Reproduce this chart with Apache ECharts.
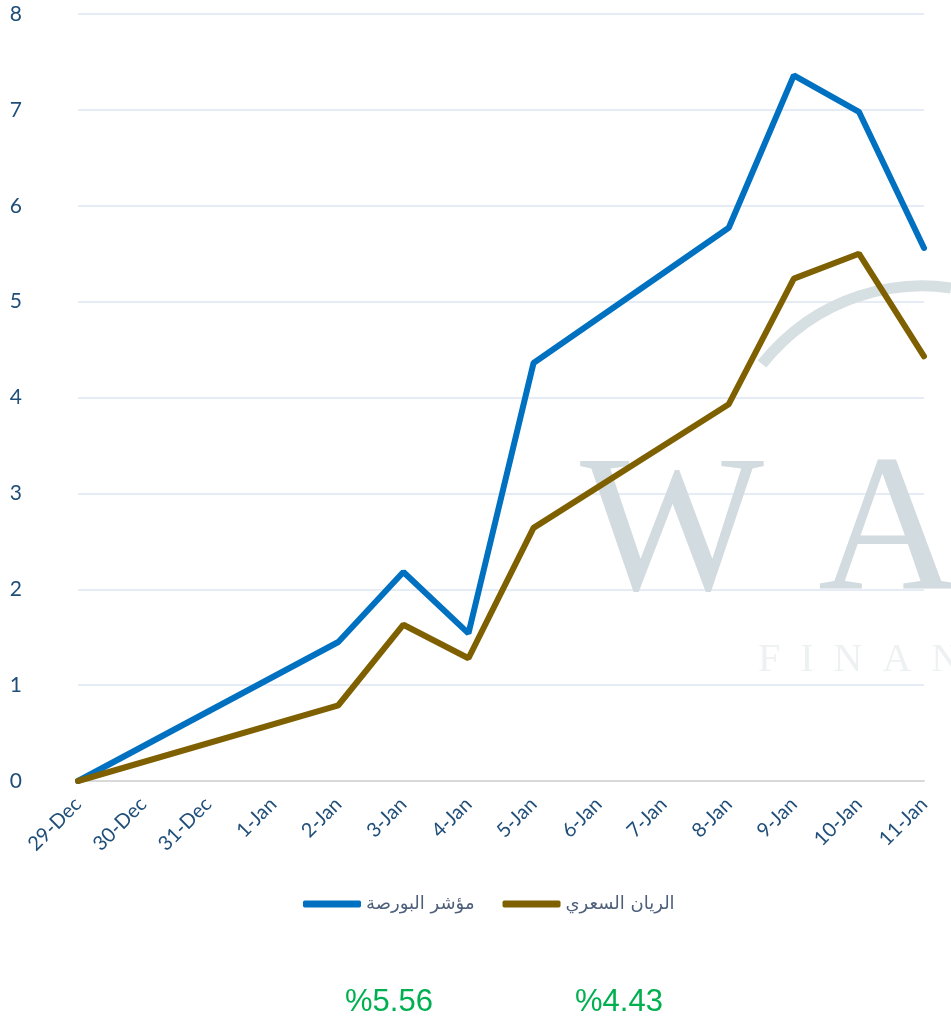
<!DOCTYPE html>
<html>
<head>
<meta charset="utf-8">
<script src="https://cdn.jsdelivr.net/npm/echarts@6/dist/echarts.min.js"></script>
<style>
  html, body { margin: 0; padding: 0; background: #fff; }
  #chart { width: 951px; height: 1024px; }
</style>
</head>
<body>
<div id="chart"></div>
<script>
// dados
const dias = ['29-Dec', '30-Dec', '31-Dec', '1-Jan', '2-Jan', '3-Jan', '4-Jan', '5-Jan', '6-Jan', '7-Jan', '8-Jan', '9-Jan', '10-Jan', '11-Jan'];
const bolsa = [0, null, null, null, 1.45, 2.18, 1.54, 4.36, null, null, 5.77, 7.36, 6.98, 5.56];
const rayan = [0, null, null, null, 0.79, 1.63, 1.28, 2.64, null, null, 3.93, 5.24, 5.50, 4.43];
const nomes = ['مؤشر البورصة', 'الريان السعري'];
const totais = ['%5.56', '%4.43'];

const chart = echarts.init(document.getElementById('chart'));

const option = {
  animation: false,
  grid: { left: 78, right: 27, top: 14, bottom: 243 },
  legend: {
    bottom: 106,
    left: 298,
    itemWidth: 58,
    itemHeight: 7,
    itemGap: 28,
    icon: 'roundRect',
    textStyle: { color: '#4d5f7a', fontSize: 18, fontFamily: 'DejaVu Sans' },
    data: nomes
  },
  xAxis: {
    type: 'category',
    data: dias,
    boundaryGap: false,
    axisLine: { lineStyle: { color: '#d9d9d9', width: 2 } },
    axisTick: { show: false },
    axisLabel: { rotate: 45, margin: 20, color: '#1f4e79', fontSize: 20, fontFamily: 'Lato', interval: 0 }
  },
  yAxis: {
    type: 'value',
    min: 0,
    max: 8,
    interval: 1,
    axisLine: { show: false },
    axisTick: { show: false },
    axisLabel: { margin: 56, color: '#1f4e79', fontSize: 21, fontFamily: 'Lato' },
    splitLine: { lineStyle: { color: '#dce6f2', width: 1.5 } }
  },
  graphic: [
    // marca d'água
    { type: 'bezierCurve', z: 1, shape: { x1: 762, y1: 364, x2: 951, y2: 288, cpx1: 820, cpy1: 292, cpx2: 900, cpy2: 280 },
      style: { stroke: '#d6dfe2', lineWidth: 11, fill: null } },
    { type: 'text', z: 1, left: 580, top: 440, style: { text: 'W', font: '195px "Liberation Serif"', fill: '#d2dbdf' } },
    { type: 'text', z: 1, left: 818, top: 440, style: { text: 'A', font: '195px "Liberation Serif"', fill: '#d2dbdf' } },
    { type: 'text', z: 1, left: 758, top: 640, style: { text: 'F  I  N  A  N', font: '40px "Liberation Serif"', fill: '#eef1f2' } },
    // totais
    { type: 'text', left: 345, top: 987, style: { text: totais[0], font: '31px "Liberation Sans"', fill: '#00b050' } },
    { type: 'text', left: 575, top: 987, style: { text: totais[1], font: '31px "Liberation Sans"', fill: '#00b050' } }
  ],
  series: [
    {
      name: nomes[0],
      type: 'line',
      data: bolsa,
      connectNulls: true,
      showSymbol: false,
      z: 3,
      color: '#0070c0',
      lineStyle: { width: 6, cap: 'round' }
    },
    {
      name: nomes[1],
      type: 'line',
      data: rayan,
      connectNulls: true,
      showSymbol: false,
      z: 4,
      color: '#7f6000',
      lineStyle: { width: 6, cap: 'round' }
    }
  ]
};

chart.setOption(option);
</script>
</body>
</html>
